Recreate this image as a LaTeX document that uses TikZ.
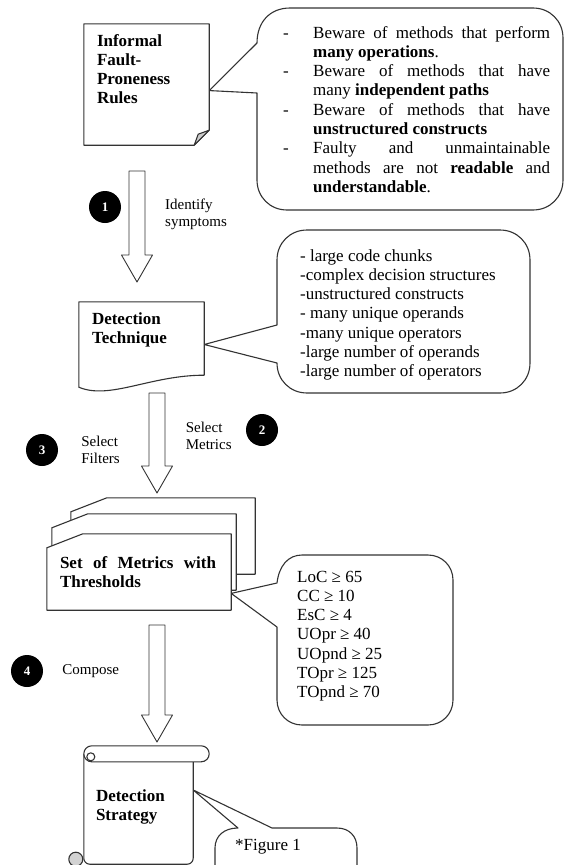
\documentclass[tikz,border=0pt]{standalone}
\usepackage{fontspec}
\setmainfont{Liberation Serif}
\usetikzlibrary{positioning,calc}

\begin{document}
\begin{tikzpicture}[x=1pt,y=-1pt,line join=round,
    shape box/.style={rectangle,inner sep=0},
    outline/.style={draw=black!80,line width=1.1pt,fill=white},
    callout/.style={draw=black!80,line width=1.1pt,fill=white},
    box text/.style={font=\fontsize{17}{19}\selectfont\bfseries,inner sep=0,anchor=base west},
    bubble text/.style={font=\fontsize{17}{19.3}\selectfont,inner sep=0,anchor=base west},
    num node/.style={circle,fill=black,text=white,minimum size=32,inner sep=0,font=\fontsize{13}{13}\selectfont\bfseries},
    step label/.style={font=\fontsize{15}{17}\selectfont,align=left,inner sep=0},
    block arrow/.style={draw=black!80,line width=0.9pt,fill=white,
      to path={($(\tikztostart)+(-8,0)$) -- ($(\tikztotarget)+(-8,-27)$) -- ($(\tikztotarget)+(-15.5,-27)$)
        -- (\tikztotarget) -- ($(\tikztotarget)+(15.5,-27)$) -- ($(\tikztotarget)+(8,-27)$) -- ($(\tikztostart)+(8,0)$) -- cycle}}]
    \useasboundingbox (0,0) rectangle (565,865);
    \clip (0,0) rectangle (565,865);

    % boxes
    \node[shape box,minimum width=125,minimum height=121] (rules) at (146.5,84.5) {};
    \node[shape box,minimum width=125,minimum height=85] (technique) at (141.5,344.5) {};
    \node[shape box,minimum width=184,minimum height=76] (metrics) at (139,572) {};
    \node[shape box,minimum width=109,minimum height=119] (strategy) at (138.5,805.5) {};

    % callouts
    \draw[callout] ($(rules.north east)!0.55!(rules.south east)$) -- (257,43) .. controls (257,22) and (270,8) .. (290,8) -- (533,8)
        .. controls (550,8) and (563,21) .. (563,38) -- (563,180) .. controls (563,197) and (550,210) .. (533,210)
        -- (287,210) .. controls (270,210) and (257,197) .. (257,180) -- (257,93) -- cycle;
    \draw[callout] (technique.east) -- (277,325) -- (277,260) .. controls (277,243) and (290,230) .. (307,230) -- (500,230)
        .. controls (517,230) and (530,243) .. (530,260) -- (530,363) .. controls (530,380) and (517,393) .. (500,393)
        -- (307,393) .. controls (290,393) and (277,380) .. (277,363) -- cycle;
    \draw[callout] ($(metrics.north east)!0.78!(metrics.south east)$) -- (277,583) .. controls (279,566) and (288,555) .. (302,555)
        -- (428,555) .. controls (442,555) and (453,566) .. (453,580) -- (453,700) .. controls (453,714) and (442,725) .. (428,725)
        -- (302,725) .. controls (288,725) and (277,714) .. (277,700) -- (277,627) -- cycle;
    \draw[callout] ($(strategy.north east)!0.37!(strategy.south east)$) -- (272,828) -- (337,828)
        .. controls (349,828) and (357,836) .. (357,848) -- (357,880) -- (215,880) -- (215,848)
        .. controls (215,836) and (224,828) .. (238,828) -- cycle;

    % informal rules (folded note)
    \draw[outline] (rules.north west) -- (rules.north east) -- ($(rules.south east)+(0,-15)$)
        -- ($(rules.south east)+(-15,0)$) -- (rules.south west) -- cycle;
    \draw[outline,fill=gray!40] ($(rules.south east)+(-15,0)$) -- ($(rules.south east)+(-11,-11)$) -- ($(rules.south east)+(0,-15)$) -- cycle;

    % detection technique (document)
    \draw[outline] (technique.north west) -- (technique.north east) -- ($(technique.south east)+(0,-12)$)
        .. controls ($(technique.south east)+(-54,-12)$) and ($(technique.south west)+(31,13)$) .. (technique.south west) -- cycle;

    % set of metrics (stack)
    \foreach \dx/\dy in {24/-36,5/-20,0/0}
        \draw[outline] ($(metrics.south west)+(\dx,\dy)$) -- ($(metrics.north west)+(\dx,\dy+14)$) -- ($(metrics.north west)+(\dx+36,\dy)$)
            -- ($(metrics.north east)+(\dx,\dy)$) -- ($(metrics.south east)+(\dx,\dy)$) -- cycle;

    % detection strategy (scroll)
    \draw[outline,rounded corners=6] ($(strategy.north west)+(0,8)$) -- ($(strategy.south west)+(0,-1)$)
        -- ($(strategy.south east)+(0,-1)$) -- ($(strategy.north east)+(0,16)$);
    \draw[outline,rounded corners=8] (strategy.north west) rectangle ($(strategy.north east)+(16,16)$);
    \draw[outline] ($(strategy.north west)+(7,11)$) circle (4);
    \draw[outline,fill=gray!35] ($(strategy.south west)+(-8,-6)$) circle (7);

    % texts
    \node[box text] (rules label) at ($(rules.north west)+(13,23)$)
        {\begin{tabular}[t]{@{}l@{}}Informal\\Fault-\\Proneness\\Rules\end{tabular}};
    \node[box text] (technique label) at ($(technique.north west)+(13,23)$)
        {\begin{tabular}[t]{@{}l@{}}Detection\\Technique\end{tabular}};
    \node[box text] (metrics label) at ($(metrics.north west)+(13,35)$)
        {\begin{tabular}[t]{@{}p{156pt}@{}}Set of Metrics with\linebreak Thresholds\end{tabular}};
    \node[box text] (strategy label) at ($(strategy.north west)+(12,56)$)
        {\begin{tabular}[t]{@{}l@{}}Detection\\Strategy\end{tabular}};

    \node[bubble text] (rules list) at (283,38)
        {\begin{tabular}[t]{@{}p{30pt}@{}p{237pt}@{}}
        - & Beware of methods that perform\linebreak \textbf{many operations}.\\
        - & Beware of methods that have\linebreak many \textbf{independent paths}\\
        - & Beware of methods that have\linebreak \textbf{unstructured constructs}\\
        - & Faulty and unmaintainable\linebreak methods are not \textbf{readable} and\linebreak \textbf{understandable}.
        \end{tabular}};
    \node[bubble text] (symptom list) at (300,261)
        {\begin{tabular}[t]{@{}l@{}}
        - large code chunks\\
        -complex decision structures\\
        -unstructured constructs\\
        - many unique operands\\
        -many unique operators\\
        -large number of operands\\
        -large number of operators
        \end{tabular}};
    \node[bubble text] (threshold list) at (297,582)
        {\begin{tabular}[t]{@{}l@{}}
        LoC ≥ 65\\
        CC ≥ 10\\
        EsC ≥ 4\\
        UOpr ≥ 40\\
        UOpnd ≥ 25\\
        TOpr ≥ 125\\
        TOpnd ≥ 70
        \end{tabular}};
    \node[bubble text] (figure note) at (235,850) {*Figure 1};

    % steps
    \coordinate (a1) at (137,171);
    \coordinate (a1 tip) at (137,282);
    \coordinate (a2) at (157,393);
    \coordinate (a2 tip) at (157,493);
    \coordinate (a4) at (157,625);
    \coordinate (a4 tip) at (157,742);
    \draw[block arrow] (a1) to (a1 tip);
    \draw[block arrow] (a2) to (a2 tip);
    \draw[block arrow] (a4) to (a4 tip);

    \node[num node] (n1) at (105,207) {1};
    \node[num node] (n2) at (262,430) {2};
    \node[num node] (n3) at (42,450) {3};
    \node[num node] (n4) at (27,671) {4};

    \node[step label,anchor=west] (identify) at (165,214) {Identify\\symptoms};
    \node[step label,left=14pt of n2,yshift=-6pt] (select metrics) {Select\\Metrics};
    \node[step label,right=23pt of n3] (select filters) {Select\\Filters};
    \node[step label,right=19pt of n4] (compose) {Compose};
\end{tikzpicture}
\end{document}
